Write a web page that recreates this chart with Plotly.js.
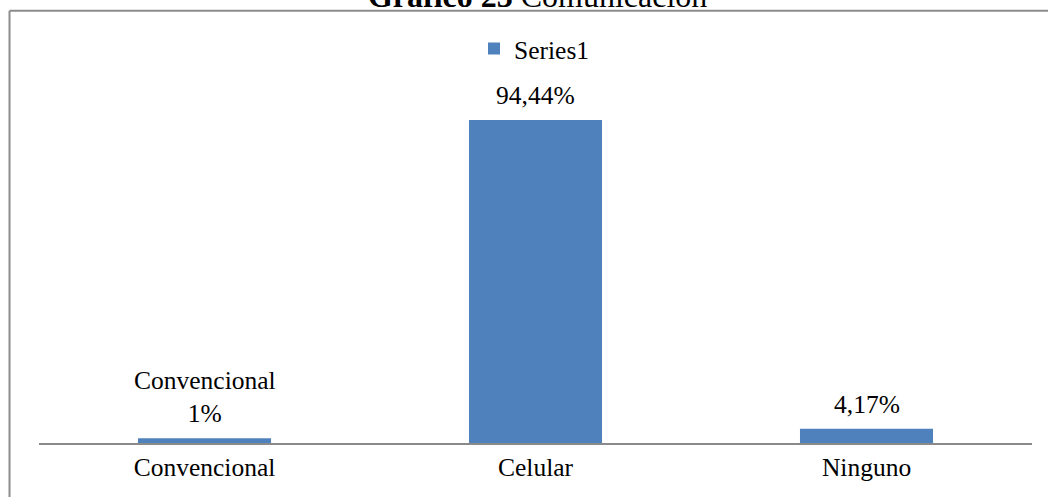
<!DOCTYPE html>
<html>
<head>
<meta charset="utf-8">
<script src="https://cdn.plot.ly/plotly-3.0.1.min.js"></script>
<style>html,body{margin:0;padding:0;background:#fff;}#chart{width:1048px;height:497px;}</style>
</head>
<body>
<div id="chart"></div>
<script>
const categories = ['Convencional', 'Celular', 'Ninguno'];
const values = [1.39, 94.44, 4.17];
const labels = ['Convencional<br>1%', '94,44%', '4,17%'];
const seriesName = 'Series1';

const FONT = 'Liberation Serif, Times New Roman, serif';
const BLUE = '#4F81BD';

const trace = {
  type: 'bar',
  x: categories,
  y: values,
  name: seriesName,
  marker: {color: BLUE},
  hoverinfo: 'none',
  showlegend: true
};

const annotations = categories.map((c, i) => ({
  x: c, y: values[i], xref: 'x', yref: 'y',
  text: labels[i], showarrow: false,
  yanchor: 'bottom', yshift: 8,
  font: {family: FONT, size: 25.5, color: '#000'}
}));

const layout = {
  width: 1048, height: 497,
  margin: {l: 39, r: 16, t: 101, b: 53.5, pad: 0},
  paper_bgcolor: '#fff', plot_bgcolor: '#fff',
  font: {family: FONT, size: 25.5, color: '#000'},
  title: {
    text: '<b>Gráfico 23</b> Comunicación',
    font: {family: FONT, size: 32, color: '#000'},
    xref: 'container', yref: 'container',
    x: 0.513, xanchor: 'center',
    y: 0.985, yanchor: 'bottom'
  },
  bargap: 0.598,
  xaxis: {
    showline: true, linecolor: '#8a8a8a', linewidth: 2,
    showgrid: false, zeroline: false, ticks: '',
    tickfont: {family: FONT, size: 25.5, color: '#000'},
    fixedrange: true
  },
  yaxis: {
    range: [0, 100], visible: false, showgrid: false, zeroline: false, fixedrange: true
  },
  legend: {
    orientation: 'h', x: 0.499, xanchor: 'center', y: 1.152, yanchor: 'middle',
    font: {family: FONT, size: 25.5, color: '#000'},
    bgcolor: 'rgba(0,0,0,0)'
  },
  annotations: annotations,
  shapes: [
    {type: 'line', xref: 'paper', yref: 'paper', x0: -0.0297, x1: 1.05, y0: 1.264, y1: 1.264,
     line: {color: '#8c8c8c', width: 2}},
    {type: 'line', xref: 'paper', yref: 'paper', x0: -0.0297, x1: -0.0297, y0: -0.2, y1: 1.264,
     line: {color: '#8c8c8c', width: 2}}
  ]
};

Plotly.newPlot('chart', [trace], layout, {displayModeBar: false, staticPlot: true});
</script>
</body>
</html>
